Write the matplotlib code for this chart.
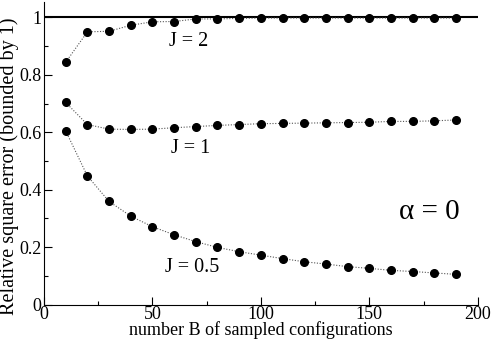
import matplotlib
matplotlib.use("Agg")
import matplotlib.pyplot as plt
from matplotlib.ticker import MultipleLocator

B = [10, 20, 30, 40, 50, 60, 70, 80, 90, 100, 110, 120, 130, 140, 150, 160, 170, 180, 190]
err_J2 = [0.844, 0.950, 0.952, 0.973, 0.985, 0.986, 0.995, 0.995, 0.997, 0.998, 0.998, 0.998, 0.998,
          0.998, 0.998, 0.998, 0.998, 0.998, 0.998]
err_J1 = [0.704, 0.627, 0.611, 0.610, 0.611, 0.616, 0.620, 0.624, 0.627, 0.630, 0.631, 0.632, 0.633,
          0.634, 0.635, 0.638, 0.638, 0.640, 0.643]
err_J05 = [0.605, 0.448, 0.359, 0.308, 0.271, 0.243, 0.219, 0.199, 0.184, 0.172, 0.160, 0.149, 0.141,
           0.132, 0.126, 0.119, 0.115, 0.110, 0.105]

plt.rcParams['font.family'] = ['Liberation Serif', 'DejaVu Serif']

fig = plt.figure(figsize=(4.91, 3.42), dpi=100)
ax = fig.add_axes([0.0896, 0.1096, 0.8834, 0.8854])

ax.axhline(1.0, color='black', lw=1.5, zorder=1)
for y in (err_J2, err_J1, err_J05):
    ax.plot(B, y, linestyle=(0, (1, 1.5)), color='#555555', lw=0.8,
            marker='o', markersize=5.5, markerfacecolor='black', markeredgecolor='black', zorder=3)

ax.text(57.5, 0.916, 'J = 2', fontsize=14.5, va='center', ha='left')
ax.text(58.5, 0.543, 'J = 1', fontsize=14.5, va='center', ha='left')
ax.text(56, 0.13, 'J = 0.5', fontsize=14.5, va='center', ha='left')
ax.text(191.5, 0.322, 'α = 0', fontsize=21, va='center', ha='right')

ax.set_xlim(0, 200)
ax.set_ylim(0, 1.055)
ax.xaxis.set_major_locator(MultipleLocator(50))
ax.xaxis.set_minor_locator(MultipleLocator(25))
ax.yaxis.set_minor_locator(MultipleLocator(0.1))
ax.set_yticks([0, 0.2, 0.4, 0.6, 0.8, 1.0])
ax.set_yticklabels(['0', '0.2', '0.4', '0.6', '0.8', '1'])
ax.tick_params(which='both', direction='in', labelsize=13, width=0.8)
ax.tick_params(which='major', length=6)
ax.tick_params(which='minor', length=3)
ax.tick_params(axis='x', pad=1)
ax.tick_params(axis='y', pad=2)
for s in ('top', 'right'):
    ax.spines[s].set_visible(False)
for s in ('left', 'bottom'):
    ax.spines[s].set_linewidth(0.8)

ax.set_xlabel('number B of sampled configurations', fontsize=13, labelpad=-1)
ax.set_ylabel('Relative square error (bounded by 1)', fontsize=14.5)
ax.yaxis.set_label_coords(-0.058, 0.455)

fig.savefig('out.png', dpi=100)
